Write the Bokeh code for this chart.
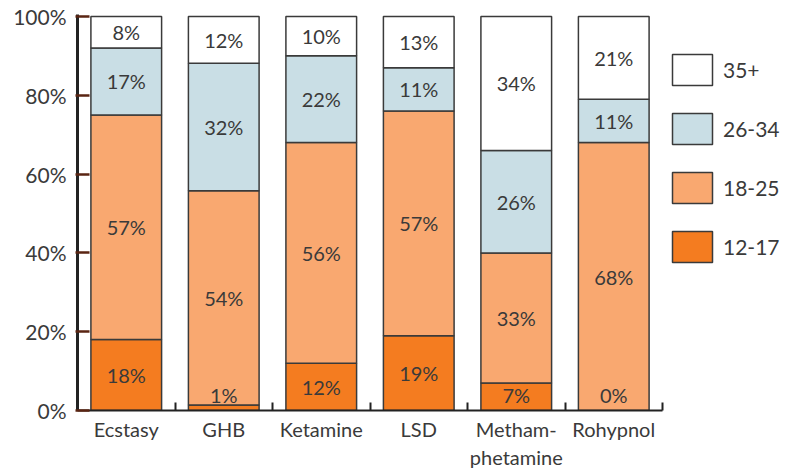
import numpy as np
from bokeh.plotting import figure
from bokeh.models import ColumnDataSource, Range1d, FixedTicker, Legend, LegendItem
from bokeh.core.properties import value
from bokeh.embed import file_html
from bokeh.resources import INLINE

categories = ["Ecstasy", "GHB", "Ketamine", "LSD", "Metham-\nphetamine", "Rohypnol"]
age_groups = ["12-17", "18-25", "26-34", "35+"]
v_12_17 = [18, 1.4, 12, 19, 7, 0]
v_18_25 = [57, 54.4, 56, 57, 33, 68]
v_26_34 = [17, 32.3, 22, 11, 26, 11]
v_35_plus = [8, 11.9, 10, 13, 34, 21]
y_ticks = [0, 20, 40, 60, 80, 100]

colors = ["#F47C20", "#F9A870", "#C9DEE5", "#FFFFFF"]
FONT = "Lato"
TXT = "#3a3a3a"

n = len(categories)
x = np.arange(n) + 0.5
series = [v_12_17, v_18_25, v_26_34, v_35_plus]
keys = ["g0", "g1", "g2", "g3"]
data = {"x": x}
for k, s in zip(keys, series):
    data[k] = s
source = ColumnDataSource(data)

FW = 710
p = figure(frame_width=FW, frame_height=396, output_backend="svg", toolbar_location=None,
           x_range=Range1d(0, n * FW / 585), y_range=Range1d(0, 100.5),
           min_border_left=77, min_border_right=0, min_border_top=14,
           min_border_bottom=59)

renderers = p.vbar_stack(keys, x="x", width=0.725, source=source, color=colors,
                         line_color="#3a3a3a", line_width=1.5)

# segment labels
lx, ly, lt = [], [], []
bottom = np.zeros(n)
for gi, s in enumerate(series):
    s = np.array(s, dtype=float)
    top = bottom + s
    mid = (bottom + top) / 2
    if gi == 0:
        mid = np.maximum(mid, 4.0)
    for i in range(n):
        lx.append(x[i])
        ly.append(mid[i])
        lt.append(f"{s[i]:.0f}%")
    bottom = top
p.text(x=lx, y=ly, text=lt, text_align="center", text_baseline="middle",
       text_font=value(FONT), text_font_size="20px", text_color=TXT)

# axes
p.grid.visible = False
p.outline_line_color = None

xa = p.xaxis[0]
xa.bounds = (0, n)
xa.ticker = FixedTicker(ticks=list(x), minor_ticks=list(range(1, n + 1)))
xa.major_label_overrides = {float(xi): c for xi, c in zip(x, categories)}
xa.major_tick_line_color = None
xa.minor_tick_in = 8
xa.minor_tick_out = 0
xa.minor_tick_line_color = "#222222"
xa.minor_tick_line_width = 2
xa.axis_line_color = "#222222"
xa.axis_line_width = 2
xa.major_label_standoff = 0
xa.major_label_text_font = FONT
xa.major_label_text_font_size = "20px"
xa.major_label_text_color = TXT

ya = p.yaxis[0]
ya.ticker = FixedTicker(ticks=y_ticks, minor_ticks=[])
ya.major_label_overrides = {t: f"{t}%" for t in y_ticks}
ya.major_tick_in = 12
ya.major_tick_out = 2
ya.major_tick_line_color = "#5a2412"
ya.major_tick_line_width = 2.5
ya.axis_line_color = "#222222"
ya.axis_line_width = 3
ya.major_label_standoff = 9
ya.major_label_text_font = FONT
ya.major_label_text_font_size = "21px"
ya.major_label_text_color = TXT

items = [LegendItem(label=g, renderers=[r]) for g, r in zip(age_groups, renderers)][::-1]
legend = Legend(items=items, location=(590, 144), glyph_width=50, glyph_height=39,
                spacing=20, label_standoff=6, padding=0, margin=0,
                border_line_color=None, background_fill_alpha=0,
                label_text_font=FONT, label_text_font_size="21px",
                label_text_color=TXT)
p.add_layout(legend, "center")

open("out.html", "w").write(file_html(p, INLINE))
